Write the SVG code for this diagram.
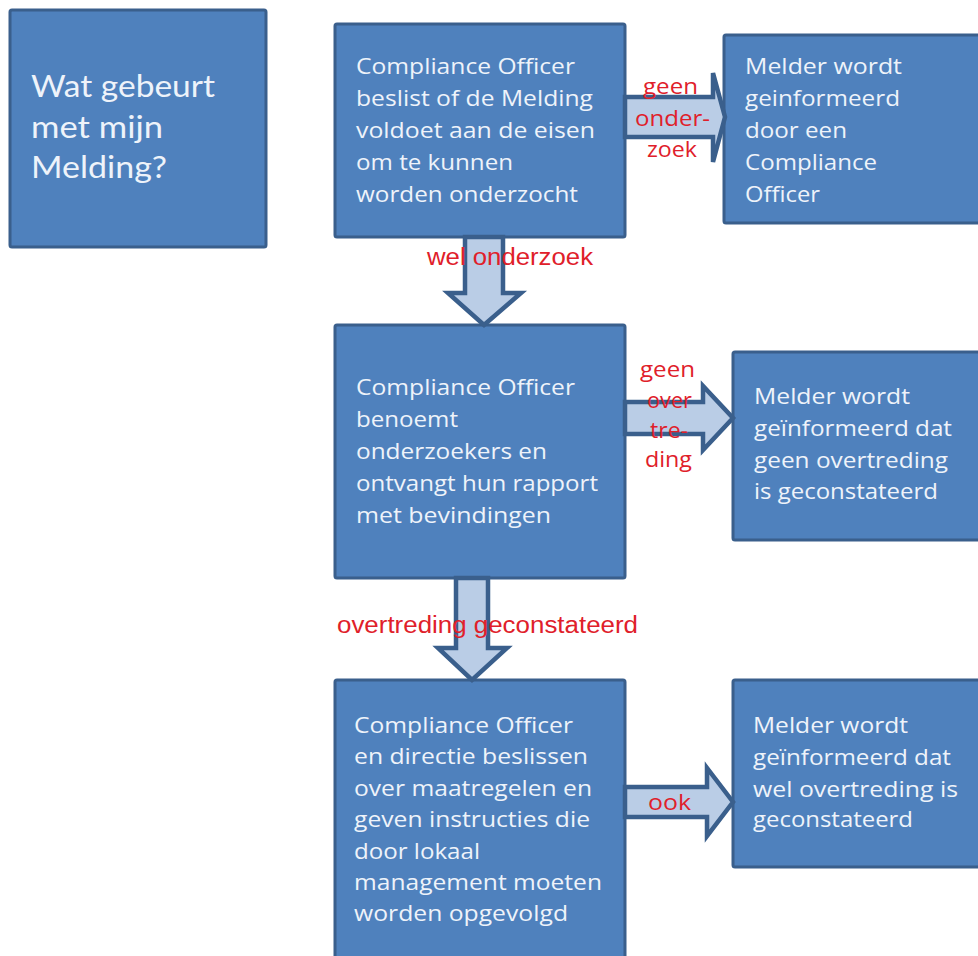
<svg xmlns="http://www.w3.org/2000/svg" width="978" height="956" viewBox="0 0 978 956">
<style>
.box{fill:#4F81BD;stroke:#3A5F8C;stroke-width:3}
.t{font-family:"Open Sans","Liberation Sans",sans-serif;font-size:21px;fill:#EEF3FA}
.title{font-family:Lato,"Open Sans",sans-serif;font-size:31px;fill:#EEF3FA}
.arr{fill:#BACDE6;stroke:#3A5F8C;stroke-width:4.5;stroke-linejoin:miter}
.lbl{font-family:"Open Sans","Liberation Sans",sans-serif;font-size:21px;fill:#E0202A}
.lbl2{font-family:"Liberation Sans",Arial,sans-serif;font-size:23px;fill:#E0202A}
</style>
<rect width="978" height="956" fill="#FFFFFF"/>
<g id="node-title">
<rect class="box" x="10" y="10" width="256" height="237" rx="2"/>
<text class="title" x="31" y="97" textLength="184" lengthAdjust="spacingAndGlyphs">Wat gebeurt</text>
<text class="title" x="31" y="138" textLength="132" lengthAdjust="spacingAndGlyphs">met mijn</text>
<text class="title" x="31" y="178" textLength="136" lengthAdjust="spacingAndGlyphs">Melding?</text>
</g>
<g id="node-beslist">
<rect class="box" x="335" y="24" width="290" height="213" rx="2"/>
<text class="t" x="356" y="74" textLength="219" lengthAdjust="spacingAndGlyphs">Compliance Officer</text>
<text class="t" x="356" y="106" textLength="237" lengthAdjust="spacingAndGlyphs">beslist of de Melding</text>
<text class="t" x="356" y="138" textLength="239" lengthAdjust="spacingAndGlyphs">voldoet aan de eisen</text>
<text class="t" x="356" y="170" textLength="157" lengthAdjust="spacingAndGlyphs">om te kunnen</text>
<text class="t" x="356" y="202" textLength="222" lengthAdjust="spacingAndGlyphs">worden onderzocht</text>
</g>
<g id="node-geen-onderzoek">
<rect class="box" x="724" y="35" width="270" height="188" rx="2"/>
<text class="t" x="745" y="74" textLength="157" lengthAdjust="spacingAndGlyphs">Melder wordt</text>
<text class="t" x="745" y="106" textLength="155" lengthAdjust="spacingAndGlyphs">geinformeerd</text>
<text class="t" x="745" y="138" textLength="102" lengthAdjust="spacingAndGlyphs">door een</text>
<text class="t" x="745" y="170" textLength="132" lengthAdjust="spacingAndGlyphs">Compliance</text>
<text class="t" x="745" y="202" textLength="75" lengthAdjust="spacingAndGlyphs">Officer</text>
</g>
<g id="node-benoemt">
<rect class="box" x="335" y="325" width="290" height="253" rx="2"/>
<text class="t" x="356" y="395" textLength="219" lengthAdjust="spacingAndGlyphs">Compliance Officer</text>
<text class="t" x="356" y="427" textLength="102" lengthAdjust="spacingAndGlyphs">benoemt</text>
<text class="t" x="356" y="459" textLength="191" lengthAdjust="spacingAndGlyphs">onderzoekers en</text>
<text class="t" x="356" y="491" textLength="242" lengthAdjust="spacingAndGlyphs">ontvangt hun rapport</text>
<text class="t" x="356" y="523" textLength="195" lengthAdjust="spacingAndGlyphs">met bevindingen</text>
</g>
<g id="node-geen-overtreding">
<rect class="box" x="733" y="352" width="260" height="188" rx="2"/>
<text class="t" x="754" y="404" textLength="156" lengthAdjust="spacingAndGlyphs">Melder wordt</text>
<text class="t" x="754" y="436" textLength="198" lengthAdjust="spacingAndGlyphs">geïnformeerd dat</text>
<text class="t" x="754" y="468" textLength="194" lengthAdjust="spacingAndGlyphs">geen overtreding</text>
<text class="t" x="754" y="499" textLength="184" lengthAdjust="spacingAndGlyphs">is geconstateerd</text>
</g>
<g id="node-maatregelen">
<rect class="box" x="335" y="680" width="290" height="300" rx="2"/>
<text class="t" x="354" y="733" textLength="219" lengthAdjust="spacingAndGlyphs">Compliance Officer</text>
<text class="t" x="354" y="764" textLength="234" lengthAdjust="spacingAndGlyphs">en directie beslissen</text>
<text class="t" x="354" y="796" textLength="238" lengthAdjust="spacingAndGlyphs">over maatregelen en</text>
<text class="t" x="354" y="827" textLength="236" lengthAdjust="spacingAndGlyphs">geven instructies die</text>
<text class="t" x="354" y="859" textLength="126" lengthAdjust="spacingAndGlyphs">door lokaal</text>
<text class="t" x="354" y="890" textLength="248" lengthAdjust="spacingAndGlyphs">management moeten</text>
<text class="t" x="354" y="921" textLength="214" lengthAdjust="spacingAndGlyphs">worden opgevolgd</text>
</g>
<g id="node-wel-overtreding">
<rect class="box" x="733" y="680" width="260" height="187" rx="2"/>
<text class="t" x="753" y="733" textLength="155" lengthAdjust="spacingAndGlyphs">Melder wordt</text>
<text class="t" x="753" y="765" textLength="198" lengthAdjust="spacingAndGlyphs">geïnformeerd dat</text>
<text class="t" x="753" y="797" textLength="205" lengthAdjust="spacingAndGlyphs">wel overtreding is</text>
<text class="t" x="753" y="827" textLength="160" lengthAdjust="spacingAndGlyphs">geconstateerd</text>
</g>
<g id="connectors">
<path class="arr" d="M625,97 H713 V73 L725,117 L713,162 V137 H625 Z"/>
<path class="arr" d="M465,237 V293 H448 L484,325 L521,293 H503 V237 Z"/>
<path class="arr" d="M625,402 H703 V386 L733,418 L703,450 V434 H625 Z"/>
<path class="arr" d="M456,578 V648 H438 L472,680 L507,648 H488 V578 Z"/>
<path class="arr" d="M625,787 H707 V768 L733,802 L707,836 V817 H625 Z"/>
<text class="lbl" x="643" y="94" textLength="55" lengthAdjust="spacingAndGlyphs">geen</text>
<text class="lbl" x="635" y="126" textLength="75" lengthAdjust="spacingAndGlyphs">onder-</text>
<text class="lbl" x="647" y="157" textLength="50" lengthAdjust="spacingAndGlyphs">zoek</text>
<text class="lbl2" x="427" y="265" textLength="166" lengthAdjust="spacingAndGlyphs">wel onderzoek</text>
<text class="lbl" x="640" y="377" textLength="55" lengthAdjust="spacingAndGlyphs">geen</text>
<text class="lbl" x="647" y="408" textLength="45" lengthAdjust="spacingAndGlyphs">over</text>
<text class="lbl" x="650" y="438" textLength="38" lengthAdjust="spacingAndGlyphs">tre-</text>
<text class="lbl" x="645" y="467" textLength="47" lengthAdjust="spacingAndGlyphs">ding</text>
<text class="lbl2" x="337" y="633" textLength="301" lengthAdjust="spacingAndGlyphs">overtreding geconstateerd</text>
<text class="lbl" x="648" y="810" textLength="43" lengthAdjust="spacingAndGlyphs">ook</text>
</g>
</svg>
